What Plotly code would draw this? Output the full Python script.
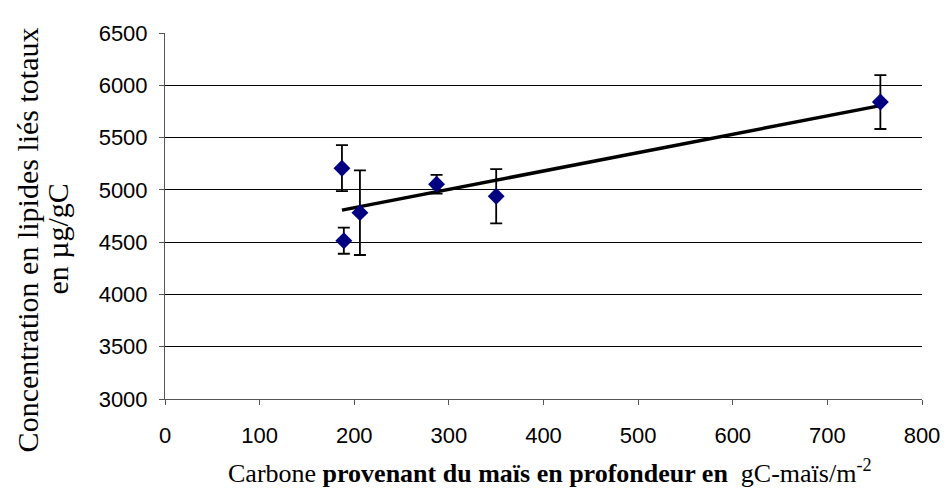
import numpy as np
import plotly.graph_objects as go

# Data
carbone_mais = [187, 189, 206, 287, 350, 756]          # gC-maïs/m-2
lipides = [5207, 4514, 4782, 5054, 4939, 5840]          # µg/gC
erreur = [220, 125, 405, 90, 260, 258]                  # error bar half-length

x_ticks = [0, 100, 200, 300, 400, 500, 600, 700, 800]
y_ticks = [3000, 3500, 4000, 4500, 5000, 5500, 6000, 6500]

# linear trend line through the data (as in the original spreadsheet chart)
slope, intercept = np.polyfit(carbone_mais, lipides, 1)
trend_x = [min(carbone_mais), max(carbone_mais)]
trend_y = [slope * v + intercept for v in trend_x]

fig = go.Figure()
fig.add_trace(go.Scatter(
    x=trend_x, y=trend_y, mode="lines",
    line=dict(color="black", width=3.5), hoverinfo="skip", showlegend=False))
fig.add_trace(go.Scatter(
    x=carbone_mais, y=lipides, mode="markers",
    marker=dict(symbol="diamond", size=13, color="#000080"),
    error_y=dict(type="data", array=erreur, visible=True,
                 color="black", thickness=1.8, width=6),
    showlegend=False))

tick_font = dict(family="Liberation Sans, Arial", size=22, color="black")
fig.update_xaxes(range=[0, 800], tickvals=x_ticks, ticktext=[str(v) for v in x_ticks],
                 showgrid=False, zeroline=False, showline=True, linecolor="#555555",
                 linewidth=1, ticks="outside", ticklen=5, tickcolor="#555555",
                 tickfont=tick_font, ticklabelstandoff=12, automargin=False)
fig.update_yaxes(range=[3000, 6500], tickvals=y_ticks, ticktext=[str(v) for v in y_ticks],
                 showgrid=True, gridcolor="black", gridwidth=1, zeroline=False,
                 showline=True, linecolor="#555555", linewidth=1,
                 ticks="outside", ticklen=5, tickcolor="#555555", tickfont=tick_font,
                 ticklabelstandoff=7, automargin=False)

title_font = dict(family="Liberation Serif, Times New Roman", size=30, color="black")
fig.add_annotation(text="Concentration en lipides liés totaux", xref="paper", yref="paper",
                   x=-0.182, y=0.434, textangle=-90, showarrow=False,
                   font=title_font, xanchor="center", yanchor="middle")
fig.add_annotation(text="en µg/gC", xref="paper", yref="paper",
                   x=-0.142, y=0.437, textangle=-90, showarrow=False,
                   font=title_font, xanchor="center", yanchor="middle")
fig.add_annotation(text="Carbone <b>provenant du maïs en profondeur en</b>  gC-maïs/m<sup>-2</sup>",
                   xref="paper", yref="paper", x=0.509, y=-0.197, showarrow=False,
                   font=dict(family="Liberation Serif, Times New Roman", size=26, color="black"),
                   xanchor="center", yanchor="middle")

# the page body adds an 8px margin, so the figure is sized to fit the window
fig.update_layout(width=933, height=483, plot_bgcolor="white", paper_bgcolor="white",
                  margin=dict(l=157, r=19, t=25, b=92))

fig.write_html("out.html")
